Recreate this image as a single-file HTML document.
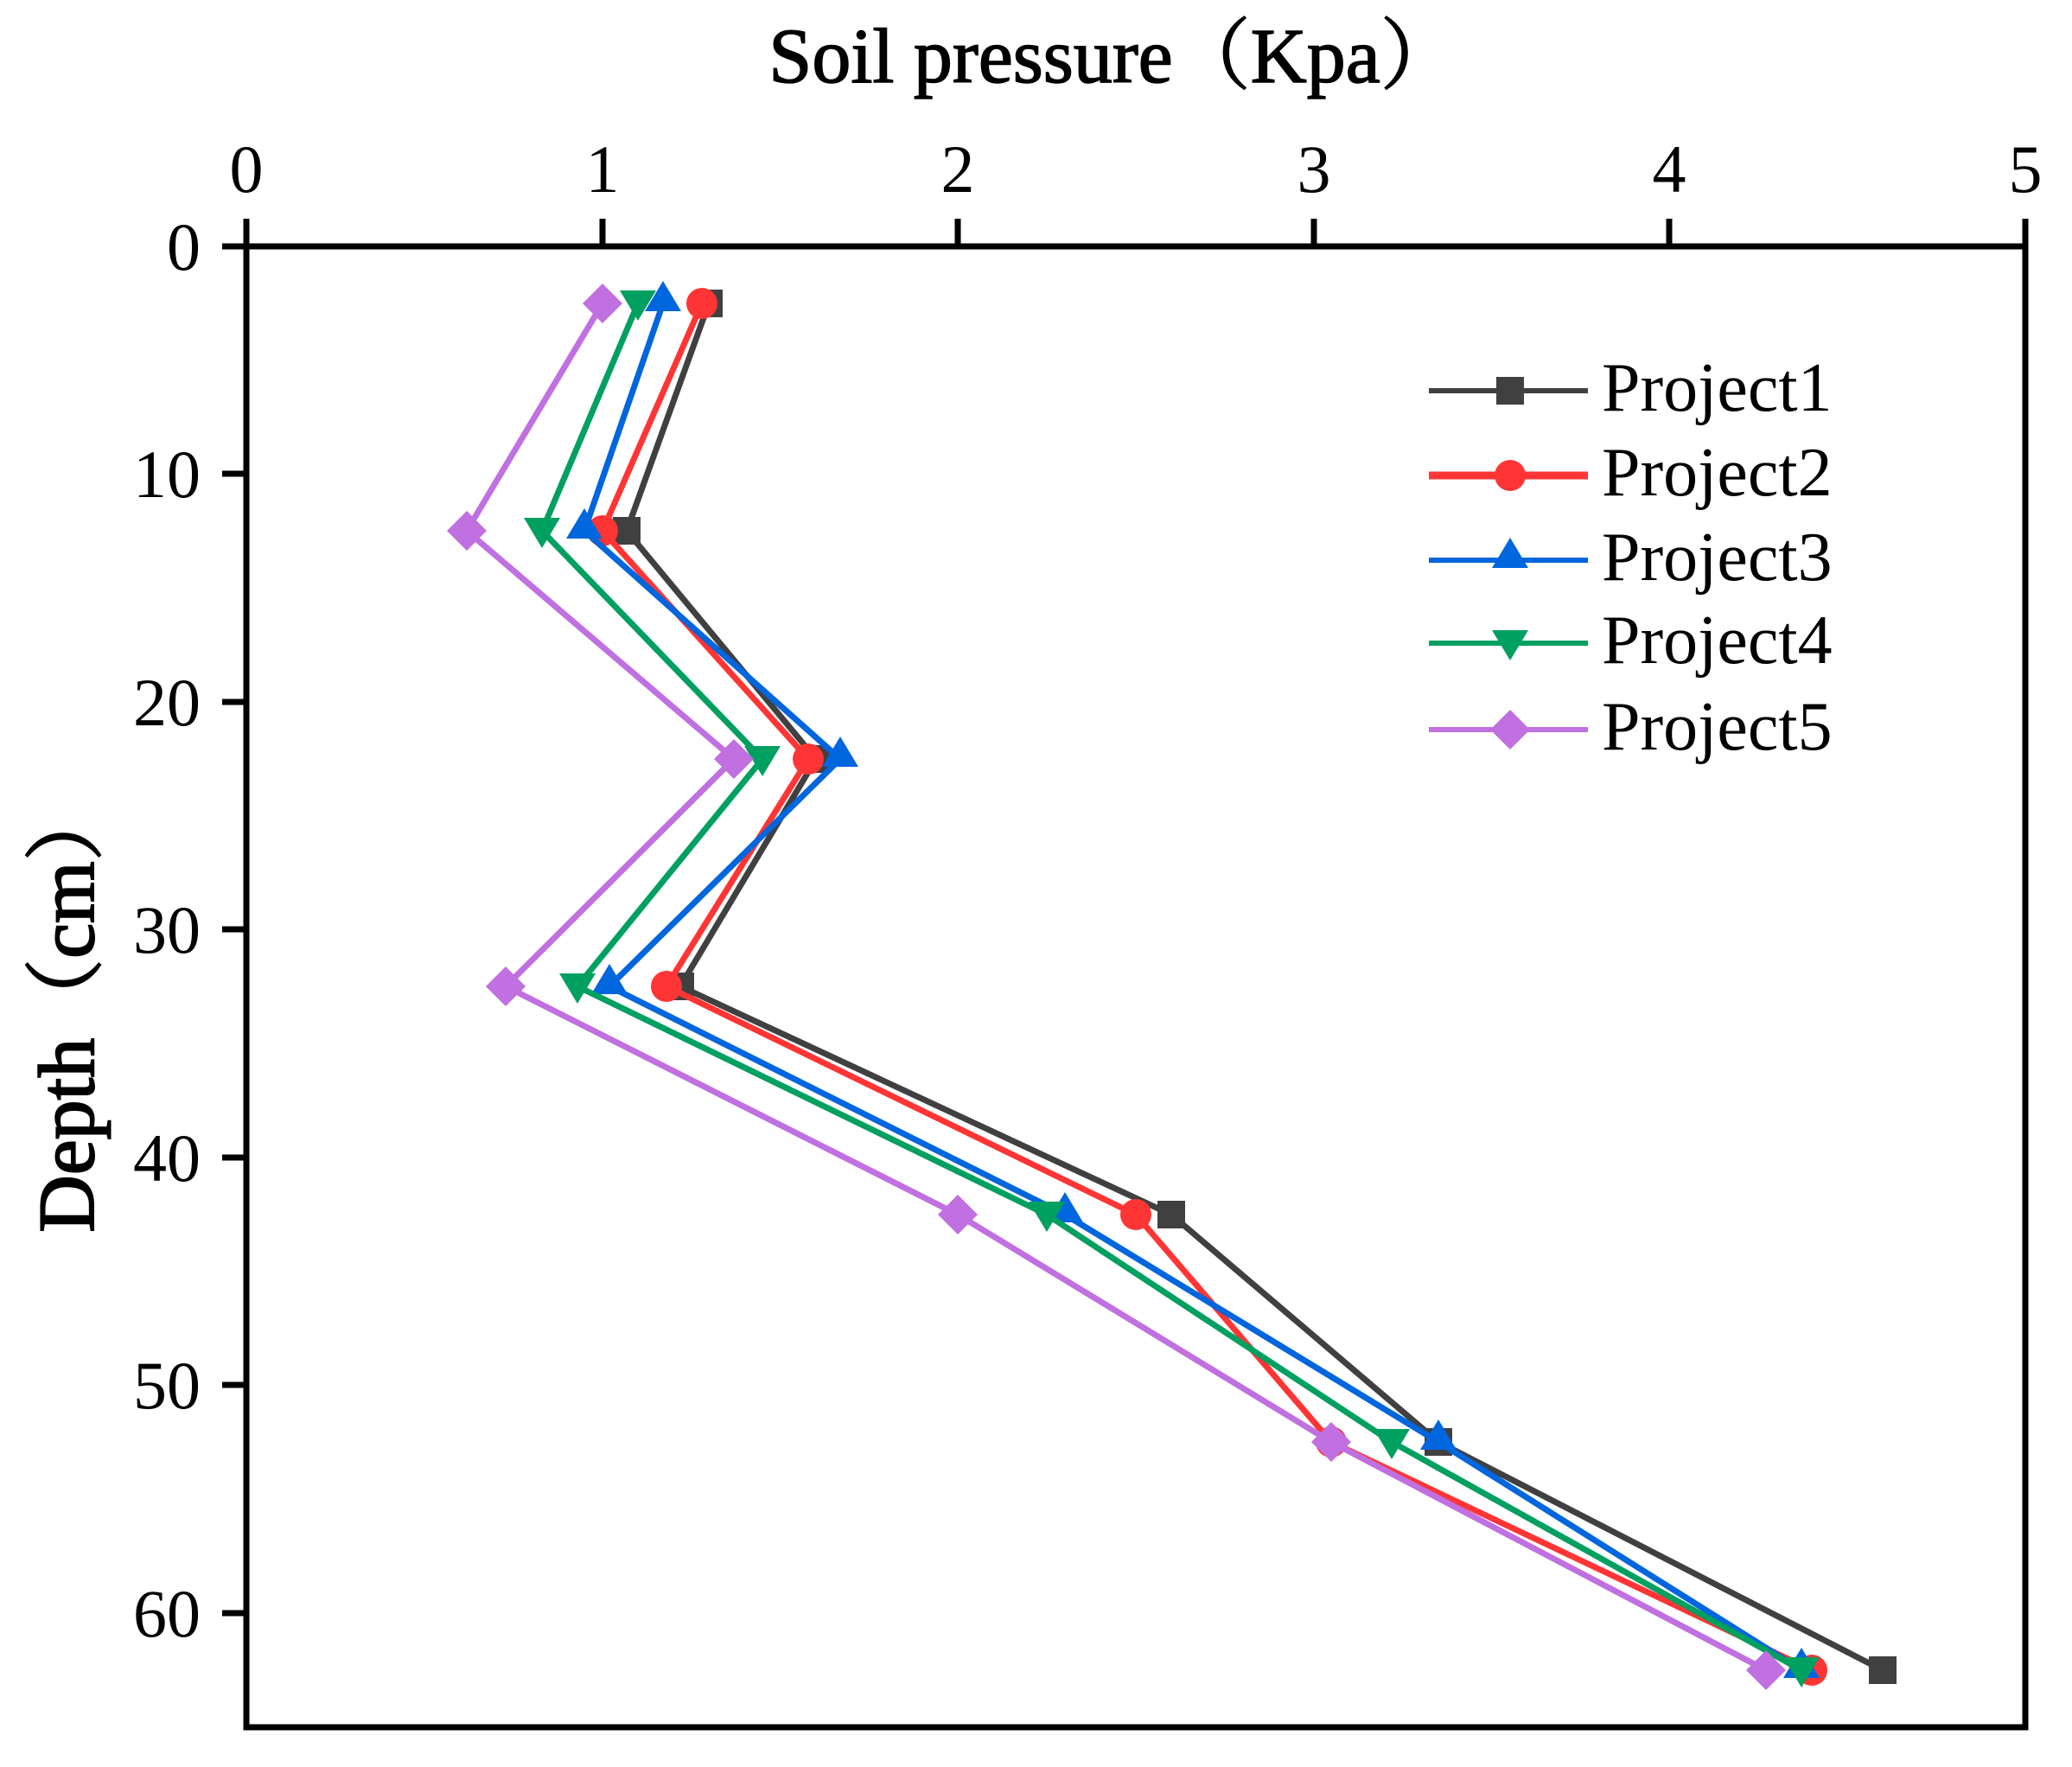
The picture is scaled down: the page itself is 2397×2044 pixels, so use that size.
<!DOCTYPE html>
<html><head><meta charset="utf-8"><style>body{margin:0;background:#fff}svg{display:block}</style></head>
<body>
<svg width="2397" height="2044" viewBox="0 0 2397 2044" xmlns="http://www.w3.org/2000/svg" font-family="'Liberation Serif','Noto Serif CJK SC',serif">
<defs>
<marker id="m1" markerUnits="userSpaceOnUse" markerWidth="40" markerHeight="40" refX="20" refY="20" overflow="visible"><rect x="4" y="4" width="32" height="32" fill="#404040"/></marker>
<marker id="m2" markerUnits="userSpaceOnUse" markerWidth="40" markerHeight="40" refX="20" refY="20" overflow="visible"><circle cx="20" cy="20" r="18" fill="#ff3535"/></marker>
<marker id="m3" markerUnits="userSpaceOnUse" markerWidth="40" markerHeight="40" refX="20" refY="20" overflow="visible"><polygon points="20,0 41,35 -1,35" fill="#0066dd" transform="translate(0,-6)"/></marker>
<marker id="m4" markerUnits="userSpaceOnUse" markerWidth="40" markerHeight="40" refX="20" refY="20" overflow="visible"><polygon points="-1,11 41,11 20,46" fill="#00a060" transform="translate(0,-6)"/></marker>
<marker id="m5" markerUnits="userSpaceOnUse" markerWidth="40" markerHeight="40" refX="20" refY="20" overflow="visible"><polygon points="20,-3 43,20 20,43 -3,20" fill="#c070e0"/></marker>
</defs>
<text x="1288" y="95" font-size="90" text-anchor="middle" stroke="#000" stroke-width="1.5">Soil pressure（Kpa）</text>
<text transform="translate(108,1165) rotate(-90)" font-size="92" text-anchor="middle" stroke="#000" stroke-width="2">Depth（cm）</text>
<g font-size="78" text-anchor="middle">
<text x="285" y="222">0</text><text x="697" y="222">1</text><text x="1108" y="222">2</text><text x="1520" y="222">3</text><text x="1931" y="222">4</text><text x="2343" y="222">5</text>
</g>
<g font-size="78" text-anchor="end">
<text x="232" y="312">0</text><text x="232" y="575">10</text><text x="232" y="839">20</text><text x="232" y="1102">30</text><text x="232" y="1366">40</text><text x="232" y="1629">50</text><text x="232" y="1893">60</text>
</g>
<g stroke="#000" stroke-width="7" fill="none">
<rect x="285" y="285" width="2058" height="1713"/>
<path d="M285 285V253M697 285V253M1108 285V253M1520 285V253M1931 285V253M2343 285V253"/>
<path d="M285 285H257M285 548H257M285 812H257M285 1075H257M285 1339H257M285 1602H257M285 1866H257"/>
</g>
<g fill="none" stroke-width="7" stroke-linejoin="round">
<polyline stroke="#404040" marker-start="url(#m1)" marker-mid="url(#m1)" marker-end="url(#m1)" points="820,351 725,614 944,878 787,1141 1355,1405 1664,1668 2178,1932"/>
<polyline stroke="#ff3535" marker-start="url(#m2)" marker-mid="url(#m2)" marker-end="url(#m2)" points="812,351 697,614 935,878 771,1141 1314,1405 1540,1668 2096,1932"/>
<polyline stroke="#0066dd" marker-start="url(#m3)" marker-mid="url(#m3)" marker-end="url(#m3)" points="767,351 676,614 972,878 705,1141 1232,1405 1664,1668 2084,1932"/>
<polyline stroke="#00a060" marker-start="url(#m4)" marker-mid="url(#m4)" marker-end="url(#m4)" points="738,351 627,614 882,878 668,1141 1211,1405 1610,1668 2084,1932"/>
<polyline stroke="#c070e0" marker-start="url(#m5)" marker-mid="url(#m5)" marker-end="url(#m5)" points="697,351 540,614 849,878 585,1141 1108,1405 1540,1668 2043,1932"/>
</g>
<g fill="none" stroke-width="6">
<polyline stroke="#404040" points="1653,452 1747,452 1837,452" marker-mid="url(#m1)"/>
<polyline stroke="#ff3535" stroke-width="9" points="1653,550 1747,550 1837,550" marker-mid="url(#m2)"/>
<polyline stroke="#0066dd" points="1653,648 1747,648 1837,648" marker-mid="url(#m3)"/>
<polyline stroke="#00a060" points="1653,744 1747,744 1837,744" marker-mid="url(#m4)"/>
<polyline stroke="#c070e0" points="1653,844 1747,844 1837,844" marker-mid="url(#m5)"/>
</g>
<g font-size="80">
<text x="1853" y="475">Project1</text>
<text x="1853" y="573">Project2</text>
<text x="1853" y="671">Project3</text>
<text x="1853" y="767">Project4</text>
<text x="1853" y="867">Project5</text>
</g>
</svg>
</body></html>
